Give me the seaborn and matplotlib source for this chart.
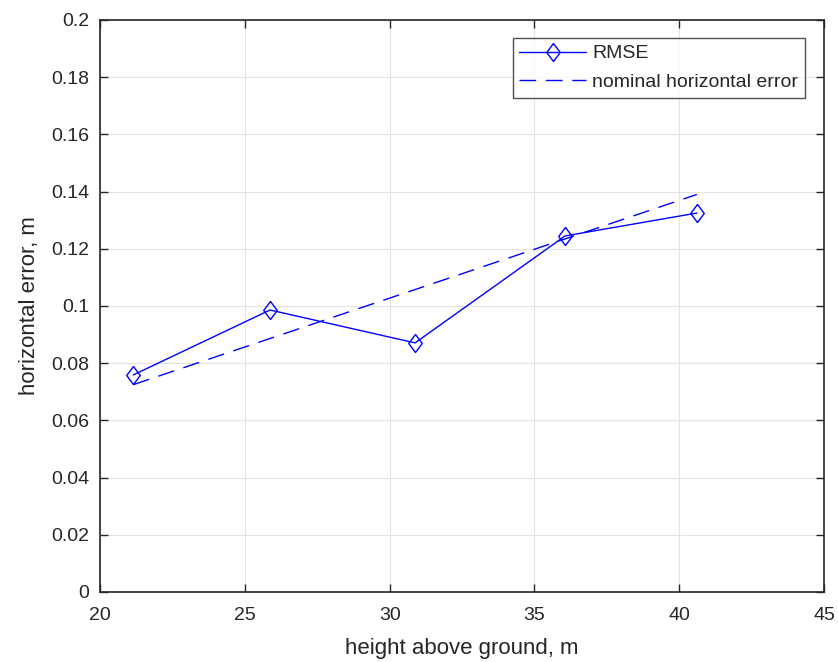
import matplotlib
matplotlib.use("Agg")
import matplotlib.pyplot as plt
import seaborn as sns
import pandas as pd

heights = [21.15, 25.87, 30.88, 36.06, 40.61]
rmse = [0.0759, 0.0986, 0.0871, 0.1245, 0.1325]
nominal_x = [21.15, 40.61]
nominal_y = [0.0725, 0.139]

sns.set_style("white")
plt.rcParams['font.family'] = ['Liberation Sans', 'DejaVu Sans']

fig = plt.figure(figsize=(8.38, 6.62), dpi=100)
ax = fig.add_axes([100 / 838, 70 / 662, 724 / 838, 572 / 662])

df1 = pd.DataFrame({"x": heights, "y": rmse})
df2 = pd.DataFrame({"x": nominal_x, "y": nominal_y})

diamond = [(0, 1), (0.75, 0), (0, -1), (-0.75, 0), (0, 1)]
sns.lineplot(data=df1, x="x", y="y", ax=ax, color="#0000ff", linewidth=1.0,
             marker=diamond, markersize=13, markerfacecolor="none",
             markeredgecolor="#0000ff", markeredgewidth=1.0, label="RMSE")
sns.lineplot(data=df2, x="x", y="y", ax=ax, color="#0000ff", linewidth=1.0,
             label="nominal horizontal error")
ax.lines[1].set_linestyle((0, (12, 7)))

ax.set_xlim(20, 45)
ax.set_ylim(0, 0.2)
ax.set_xticks([20, 25, 30, 35, 40, 45])
ax.set_yticks([0, 0.02, 0.04, 0.06, 0.08, 0.1, 0.12, 0.14, 0.16, 0.18, 0.2])
ax.set_yticklabels(["0", "0.02", "0.04", "0.06", "0.08", "0.1", "0.12", "0.14", "0.16", "0.18", "0.2"])
ax.grid(True, color="#e3e3e3", linewidth=0.8)
ax.tick_params(direction="in", length=6, width=1, labelsize=14, colors="#262626",
               top=True, right=True, bottom=True, left=True)
ax.tick_params(axis="x", pad=11)
ax.tick_params(axis="y", pad=8)
for s in ax.spines.values():
    s.set_color("#262626")
    s.set_linewidth(1.2)
ax.set_xlabel("height above ground, m", fontsize=16, color="#262626", labelpad=10)
ax.set_ylabel("horizontal error, m", fontsize=16, color="#262626", labelpad=8)

leg = ax.legend(loc="upper right", bbox_to_anchor=(0.974, 0.9685), fontsize=14,
                frameon=True, fancybox=False, edgecolor="#262626",
                handlelength=3.4, handletextpad=0.35, borderpad=0.35,
                labelspacing=0.55, borderaxespad=0.0)
leg.get_frame().set_linewidth(1.0)

fig.savefig("out.png", dpi=100)
